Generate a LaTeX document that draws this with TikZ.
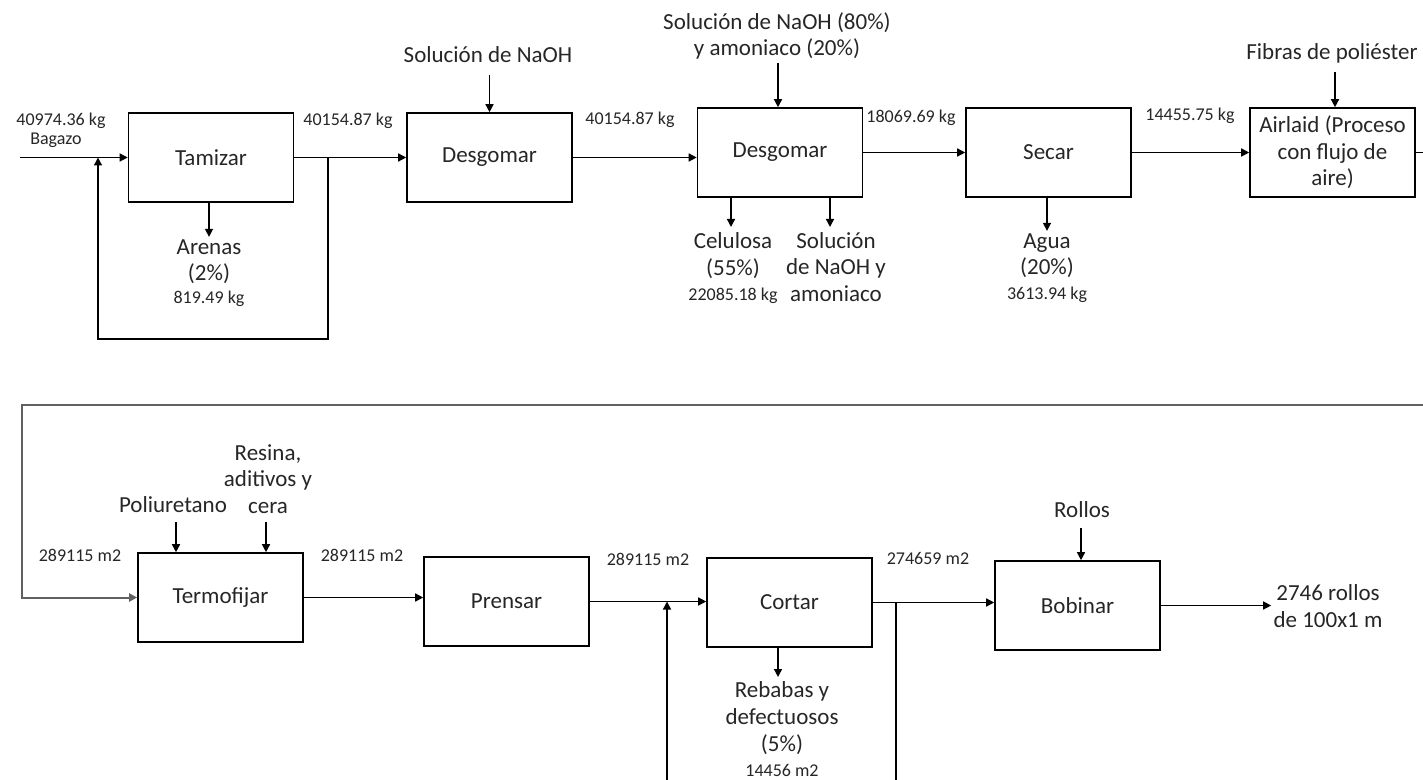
\documentclass[tikz,border=0pt]{standalone}
\usepackage{fontspec}
\setmainfont{Carlito}
\usetikzlibrary{arrows.meta}
\definecolor{ink}{RGB}{38,38,38}
\begin{document}
\begin{tikzpicture}[x=0.5pt,y=-0.5pt,
  box/.style={draw, line width=0.8pt, minimum width=82.5pt, minimum height=44.5pt,
              inner sep=0pt, font=\fontsize{11.5}{13.3}\selectfont, align=center, text=ink},
  lbl/.style={font=\fontsize{11.5}{13.4}\selectfont, align=center, inner sep=1pt, text=ink},
  qty/.style={font=\fontsize{9}{10}\selectfont, inner sep=1pt, text=ink},
  flow/.style={line width=0.7pt},
  arr/.style={flow, -{Triangle[length=4pt,width=4pt]}},
  loopline/.style={line width=1pt, draw=black!62, -{Triangle[length=4pt,width=4pt]}}
]
\newcommand{\qsize}{\fontsize{9}{10}\selectfont}
\useasboundingbox (0,0) rectangle (1423,780);

% ---------- first line of the process ----------
\node[box] (tam)  at (211,157.5)  {Tamizar};
\node[box] (des1) at (489.5,157.5) {Desgomar};
\node[box] (des2) at (780,152.5)  {Desgomar};
\node[box] (sec)  at (1048.5,152.5) {Secar};
\node[box] (air)  at (1332.5,152.5) {Airlaid (Proceso\\con flujo de\\aire)};

% quantities on the streams
\node[qty] (q0) at (61,121) {40974.36 kg};
\node[qty] (q0b) at (56,140) {Bagazo};
\node[qty] (q1) at (348,121) {40154.87 kg};
\node[qty] (q2) at (630,120) {40154.87 kg};
\node[qty] (q3) at (911,118) {18069.69 kg};
\node[qty] (q4) at (1190,116) {14455.75 kg};

% inputs and outputs
\node[lbl] (sol1) at (488,55) {Solución de NaOH};
\node[lbl] (sol2) at (777,36) {Solución de NaOH (80\%)\\y amoniaco (20\%)};
\node[lbl] (fib)  at (1332,53) {Fibras de poliéster};
\node[lbl] (are)  at (209,273) {Arenas\\(2\%)\\[-2pt]{\qsize 819.49 kg}};
\node[lbl] (cel)  at (733,268) {Celulosa\\(55\%)\\[-1pt]{\qsize 22085.18 kg}};
\node[lbl] (sna)  at (836,267) {Solución\\de NaOH y\\amoniaco};
\node[lbl] (agu)  at (1047,268) {Agua\\(20\%)\\[-1pt]{\qsize 3613.94 kg}};

\coordinate (in0) at (20,157.5);
\draw[arr] (in0) -- (tam.west);
\draw[arr] (tam.east) -- (tam.east -| des1.west);
\draw[arr] (des1.east) -- (des1.east -| des2.west);
\draw[arr] (des2.east) -- (des2.east -| sec.west);
\draw[arr] (sec.east) -- (sec.east -| air.west);

% recycle of the screening step
\coordinate (rA) at (328,339);
\coordinate (rB) at (98,339);
\draw[arr] (rA |- tam.east) -- (rA) -- (rB) -- (rB |- tam.west);

% feeds from above
\coordinate (s1) at (489.5,75);
\coordinate (s2) at (778,63);
\coordinate (s3) at (1335,72);
\draw[arr] (s1) -- (des1.north);
\draw[arr] (s2) -- (s2 |- des2.north);
\draw[arr] (s3) -- (s3 |- air.north);

% discharges below
\coordinate (d1) at (731,227);
\coordinate (d2) at (830,227);
\draw[arr] (tam.south -| are.north) -- (are.north);
\draw[arr] (d1 |- des2.south) -- (d1);
\draw[arr] (d2 |- des2.south) -- (d2);
\draw[arr] (sec.south -| agu.north) -- (agu.north);

% link to the second line
\coordinate (lp1) at (1423,152.5);
\coordinate (lp2) at (1423,405);
\coordinate (lp3) at (22,405);
\draw[flow] (air.east) -- (lp1);

% ---------- second line of the process ----------
\node[box] (ter) at (220.5,597.5)  {Termofijar};
\node[box] (pre) at (506.5,601.5) {Prensar};
\node[box] (cor) at (789.5,602.5) {Cortar};
\node[box] (bob) at (1077.5,605.5)  {Bobinar};

\draw[loopline] (lp2) -- (lp3) -- (lp3 |- ter.west) -- (ter.west);

\node[qty] (q5) at (80,555) {289115 m2};
\node[qty] (q6) at (362,555) {289115 m2};
\node[qty] (q7) at (648,559) {289115 m2};
\node[qty] (q8) at (928,558) {274659 m2};

\node[lbl] (pol) at (173,505) {Poliuretano};
\node[lbl] (res) at (268,479) {Resina,\\aditivos y\\cera};
\node[lbl] (reb) at (782,729) {Rebabas y\\defectuosos\\(5\%)\\[-1pt]{\qsize 14456 m2}};
\node[lbl] (rol) at (1082,510) {Rollos};
\node[lbl] (out) at (1328,606) {2746 rollos\\de 100x1 m};

\coordinate (t1) at (176,522);
\coordinate (t2) at (266,522);
\coordinate (s4) at (1081,528);
\coordinate (d3) at (778,677);
\draw[arr] (t1) -- (t1 |- ter.north);
\draw[arr] (t2) -- (t2 |- ter.north);
\draw[arr] (s4) -- (s4 |- bob.north);
\draw[arr] (d3 |- cor.south) -- (d3);

\draw[arr] (ter.east) -- (ter.east -| pre.west);
\draw[arr] (pre.east) -- (pre.east -| cor.west);
\draw[arr] (cor.east) -- (cor.east -| bob.west);
\draw[arr] (bob.east) -- (bob.east -| out.west);

% return of trimmings into the cutting step
\coordinate (cb1) at (896,780);
\coordinate (cb2) at (667,780);
\draw[flow] (cb1 |- cor.east) -- (cb1);
\draw[arr] (cb2) -- (cb2 |- pre.east);
\end{tikzpicture}
\end{document}
